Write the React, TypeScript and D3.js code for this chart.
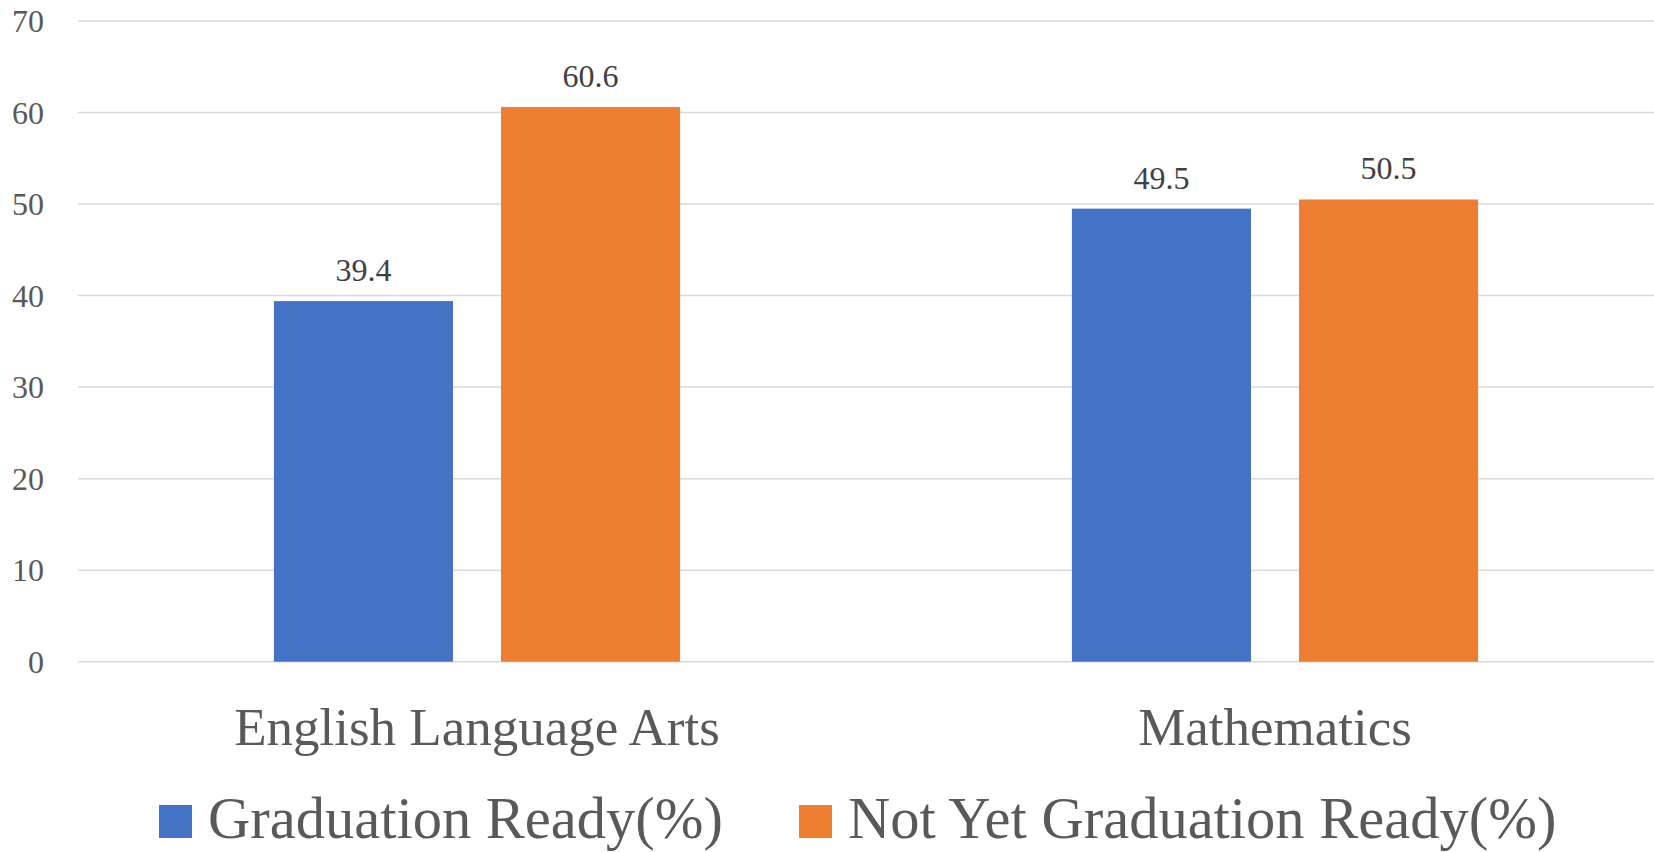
import React, { useRef, useEffect } from 'react';
import * as d3 from 'd3';

const categories = ['English Language Arts', 'Mathematics'];
const seriesNames = ['Graduation Ready(%)', 'Not Yet Graduation Ready(%)'];
const graduationReady = [39.4, 49.5];
const notYetReady = [60.6, 50.5];
const yTicks = [0, 10, 20, 30, 40, 50, 60, 70];
const colors = ['#4472C4', '#ED7D31'];

const BarChart: React.FC = () => {
  const svgRef = useRef<SVGSVGElement>(null);

  useEffect(() => {
    if (!svgRef.current) return;

    const width = 1654;
    const height = 852;
    const font = '"Liberation Serif", "Times New Roman", serif';

    const svg = d3.select(svgRef.current);
    svg.selectAll('*').remove();
    svg.attr('width', width).attr('height', height);

    const values = [graduationReady, notYetReady];

    // Scales (plot area runs a little past the right edge, as in the source)
    const x0 = d3.scaleBand<string>().domain(categories).range([78, 1674]).paddingInner(0.491).paddingOuter(0.2455);
    const x1 = d3.scaleBand<string>().domain(seriesNames).range([0, x0.bandwidth()]).paddingInner(0.2115);
    const y = d3.scaleLinear().domain([0, 70]).range([661.7, 21]);

    // Gridlines
    svg
      .append('g')
      .selectAll('line')
      .data(yTicks)
      .enter()
      .append('line')
      .attr('x1', 78)
      .attr('x2', width)
      .attr('y1', (d) => y(d))
      .attr('y2', (d) => y(d))
      .attr('stroke', '#d9d9d9')
      .attr('stroke-width', 1.5);

    // Y tick labels
    svg
      .append('g')
      .selectAll('text')
      .data(yTicks)
      .enter()
      .append('text')
      .attr('x', 44)
      .attr('y', (d) => y(d) + 11)
      .attr('text-anchor', 'end')
      .attr('font-family', font)
      .attr('font-size', 32)
      .attr('fill', '#595959')
      .text((d) => d);

    // Bars + labels
    seriesNames.forEach((name, si) => {
      const g = svg.append('g');
      g.selectAll('rect')
        .data(categories)
        .enter()
        .append('rect')
        .attr('x', (c) => x0(c)! + x1(name)!)
        .attr('y', (c, i) => y(values[si][i]))
        .attr('width', x1.bandwidth())
        .attr('height', (c, i) => y(0) - y(values[si][i]))
        .attr('fill', colors[si]);

      g.selectAll('text')
        .data(categories)
        .enter()
        .append('text')
        .attr('x', (c) => x0(c)! + x1(name)! + x1.bandwidth() / 2)
        .attr('y', (c, i) => y(values[si][i]) - 20)
        .attr('text-anchor', 'middle')
        .attr('font-family', font)
        .attr('font-size', 32)
        .attr('fill', '#404040')
        .text((c, i) => values[si][i].toFixed(1));
    });

    // Category labels
    svg
      .append('g')
      .selectAll('text')
      .data(categories)
      .enter()
      .append('text')
      .attr('x', (c) => x0(c)! + x0.bandwidth() / 2)
      .attr('y', 745)
      .attr('text-anchor', 'middle')
      .attr('font-family', font)
      .attr('font-size', 53)
      .attr('fill', '#595959')
      .text((c) => c);

    // Legend
    const legendX = [159, 799];
    seriesNames.forEach((name, i) => {
      svg
        .append('rect')
        .attr('x', legendX[i])
        .attr('y', 805)
        .attr('width', 33)
        .attr('height', 33)
        .attr('fill', colors[i]);
      svg
        .append('text')
        .attr('x', legendX[i] + 49)
        .attr('y', 838)
        .attr('font-family', font)
        .attr('font-size', 58.5)
        .attr('fill', '#595959')
        .text(name);
    });
  }, []);

  return <svg ref={svgRef} style={{ position: 'absolute', left: 0, top: 0 }}></svg>;
};

export default function App() {
  return <BarChart />;
}
